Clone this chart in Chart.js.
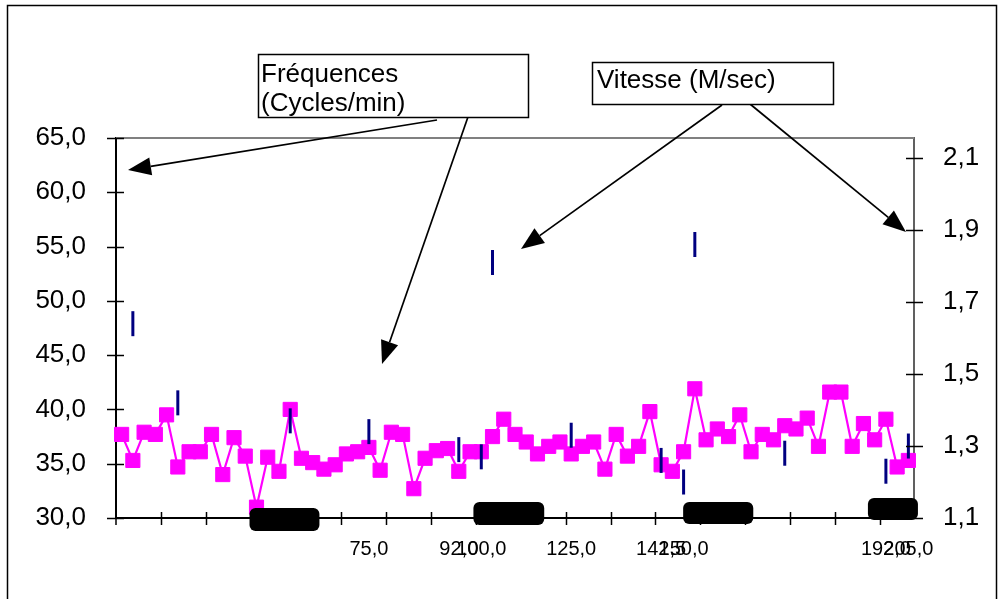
<!DOCTYPE html>
<html>
<head>
<meta charset="utf-8">
<script src="https://cdn.jsdelivr.net/npm/chart.js@4.4.1/dist/chart.umd.min.js"></script>
<style>
  html, body { margin: 0; padding: 0; background: #fff; }
  #wrap { position: relative; width: 1004px; height: 599px; }
</style>
</head>
<body>
<div id="wrap"><canvas id="c"></canvas></div>
<script>
// ---- data ----
const labelIndex = [22, 30, 32, 40, 48, 50, 68, 70];
const labelText  = ['75,0', '92,0', '100,0', '125,0', '142,5', '150,0', '192,0', '205,0'];
const frequences = [37.7, 35.3, 37.9, 37.7, 39.5, 34.7, 36.1, 36.1, 37.7, 34.0,
                    37.4, 35.7, 31.0, 35.6, 34.3, 40.0, 35.5, 35.1, 34.5, 34.9,
                    35.9, 36.1, 36.5, 34.4, 37.9, 37.7, 32.7, 35.5, 36.2, 36.4,
                    34.3, 36.1, 36.1, 37.5, 39.1, 37.7, 37.0, 35.9, 36.6, 37.0,
                    35.9, 36.6, 37.0, 34.5, 37.7, 35.7, 36.6, 39.8, 34.9, 34.3,
                    36.1, 41.9, 37.2, 38.2, 37.5, 39.5, 36.1, 37.7, 37.2, 38.5,
                    38.2, 39.2, 36.6, 41.6, 41.6, 36.6, 38.7, 37.2, 39.1, 34.7,
                    35.3];
const vitesseIndex = [1, 5, 15, 22, 30, 32, 33, 40, 48, 50, 51, 59, 68, 70];
const vitesse      = [1.64, 1.42, 1.37, 1.34, 1.29, 1.27, 1.81, 1.33, 1.26, 1.20, 1.86, 1.28, 1.23, 1.30];
const leftTicks  = [30, 35, 40, 45, 50, 55, 60, 65];
const rightTicks = [1.1, 1.3, 1.5, 1.7, 1.9, 2.1];
const labelFreq1 = 'Fréquences';
const labelFreq2 = '(Cycles/min)';
const labelVit   = 'Vitesse (M/sec)';

// ---- derived ----
const categories = frequences.map((_, i) => {
  const k = labelIndex.indexOf(i);
  return k >= 0 ? labelText[k] : '';
});
const vitesseData = frequences.map(() => null);
vitesseIndex.forEach((idx, k) => { vitesseData[idx] = vitesse[k]; });

const FONT = "'Liberation Sans', Arial, sans-serif";
const comma = v => Number(v).toFixed(1).replace('.', ',');

const decorPlugin = {
  id: 'decor',
  afterDraw(chart) {
    const ctx = chart.ctx;
    const a = chart.chartArea;
    const xs = chart.scales.x, yl = chart.scales.y, yr = chart.scales.y1;
    ctx.save();

    // top border of plot area
    ctx.strokeStyle = '#808080';
    ctx.lineWidth = 2;
    ctx.beginPath(); ctx.moveTo(a.left, a.top); ctx.lineTo(a.right, a.top); ctx.stroke();

    // crossing tick marks
    ctx.strokeStyle = '#000';
    ctx.lineWidth = 1.5;
    yl.ticks.forEach(t => {
      const p = Math.round(yl.getPixelForValue(t.value)) + 0.5;
      ctx.beginPath(); ctx.moveTo(a.left - 9, p); ctx.lineTo(a.left + 8, p); ctx.stroke();
    });
    yr.ticks.forEach(t => {
      const p = Math.round(yr.getPixelForValue(t.value)) + 0.5;
      ctx.beginPath(); ctx.moveTo(a.right - 8, p); ctx.lineTo(a.right + 9, p); ctx.stroke();
    });
    const half = (xs.getPixelForValue(1) - xs.getPixelForValue(0)) / 2;
    for (let k = 4; k < categories.length; k += 4) {
      const p = Math.round(xs.getPixelForValue(k) - half) + 0.5;
      ctx.beginPath(); ctx.moveTo(p, a.bottom - 6); ctx.lineTo(p, a.bottom + 7); ctx.stroke();
    }
    {
      const p = a.left;
      ctx.beginPath(); ctx.moveTo(p, a.bottom - 6); ctx.lineTo(p, a.bottom + 7); ctx.stroke();
    }

    // black rounded boxes on the axis
    ctx.fillStyle = '#000';
    const boxes = [[11.38, 17.6, -10, 13], [31.3, 37.6, -16, 7], [49.96, 56.2, -16, 6], [66.4, 70.85, -20, 2]];
    boxes.forEach(b => {
      const x0 = xs.getPixelForValue(b[0]), x1 = xs.getPixelForValue(b[1]);
      ctx.beginPath();
      ctx.roundRect(x0, a.bottom + b[2], x1 - x0, b[3] - b[2], 6);
      ctx.fill();
    });

    // outer frame
    ctx.strokeStyle = '#000';
    ctx.lineWidth = 1.5;
    ctx.strokeRect(7.5, 5.5, 989, 620);

    // arrows
    function arrow(x0, y0, x1, y1) {
      ctx.strokeStyle = '#000';
      ctx.fillStyle = '#000';
      ctx.lineWidth = 1.7;
      const ang = Math.atan2(y1 - y0, x1 - x0);
      const L = 23, W = 9;
      const bx = x1 - L * Math.cos(ang), by = y1 - L * Math.sin(ang);
      ctx.beginPath(); ctx.moveTo(x0, y0); ctx.lineTo(bx, by); ctx.stroke();
      ctx.beginPath();
      ctx.moveTo(x1, y1);
      ctx.lineTo(bx + W * Math.sin(ang), by - W * Math.cos(ang));
      ctx.lineTo(bx - W * Math.sin(ang), by + W * Math.cos(ang));
      ctx.closePath(); ctx.fill();
    }
    arrow(437, 120, 128, 170);
    arrow(469, 114, 382, 364);
    arrow(722, 105, 521, 249);
    arrow(750, 104, 906, 232);

    // text boxes
    ctx.fillStyle = '#fff';
    ctx.strokeStyle = '#000';
    ctx.lineWidth = 1.5;
    ctx.fillRect(258, 54, 270, 63); ctx.strokeRect(258.5, 54.5, 270, 63);
    ctx.fillRect(592, 62, 241, 42); ctx.strokeRect(592.5, 62.5, 241, 42);
    ctx.fillStyle = '#000';
    ctx.font = '26px ' + FONT;
    ctx.textAlign = 'left';
    ctx.textBaseline = 'alphabetic';
    ctx.fillText(labelFreq1, 261, 82);
    ctx.fillText(labelFreq2, 261, 111);
    ctx.fillText(labelVit, 597, 88);

    ctx.restore();
  }
};

new Chart(document.getElementById('c'), {
  type: 'line',
  data: {
    labels: categories,
    datasets: [
      {
        label: 'Vitesse',
        data: vitesseData,
        yAxisID: 'y1',
        showLine: false,
        pointStyle: 'line',
        rotation: 90,
        pointRadius: 12.5,
        pointHoverRadius: 12.5,
        pointBorderWidth: 3,
        borderColor: '#000080',
        backgroundColor: '#000080',
        clip: false
      },
      {
        label: 'Fréquences',
        data: frequences,
        yAxisID: 'y',
        borderColor: '#FF00FF',
        backgroundColor: '#FF00FF',
        borderWidth: 2.2,
        tension: 0,
        pointStyle: 'rect',
        pointRadius: 10,
        pointHoverRadius: 10,
        pointBorderWidth: 1,
        pointBorderColor: '#FF00FF',
        pointBackgroundColor: '#FF00FF',
        clip: false
      }
    ]
  },
  options: {
    responsive: true,
    maintainAspectRatio: false,
    animation: false,
    events: [],
    layout: { padding: { top: 138, left: 0, right: 0, bottom: 0 } },
    plugins: { legend: { display: false }, tooltip: { enabled: false }, title: { display: false } },
    scales: {
      x: {
        type: 'category',
        offset: true,
        grid: { display: false },
        border: { display: true, color: '#000', width: 2 },
        ticks: { autoSkip: false, maxRotation: 0, minRotation: 0, padding: 11, color: '#000',
                 font: { family: FONT, size: 20 } },
        afterFit: s => { s.height = 81; }
      },
      y: {
        type: 'linear',
        position: 'left',
        min: 30, max: 65,
        grid: { display: false },
        border: { display: true, color: '#000', width: 2 },
        afterBuildTicks: s => { s.ticks = leftTicks.map(v => ({ value: v })); },
        ticks: { padding: 22, color: '#000', font: { family: FONT, size: 26 }, callback: v => comma(v) },
        afterFit: s => { s.width = 116; }
      },
      y1: {
        type: 'linear',
        position: 'right',
        min: 1.1, max: 2.156,
        grid: { display: false },
        border: { display: true, color: '#606060', width: 2 },
        afterBuildTicks: s => { s.ticks = rightTicks.map(v => ({ value: v })); },
        ticks: { padding: 21, color: '#000', font: { family: FONT, size: 26 }, callback: v => comma(v) },
        afterFit: s => { s.width = 90; }
      }
    }
  },
  plugins: [decorPlugin]
});
</script>
</body>
</html>
